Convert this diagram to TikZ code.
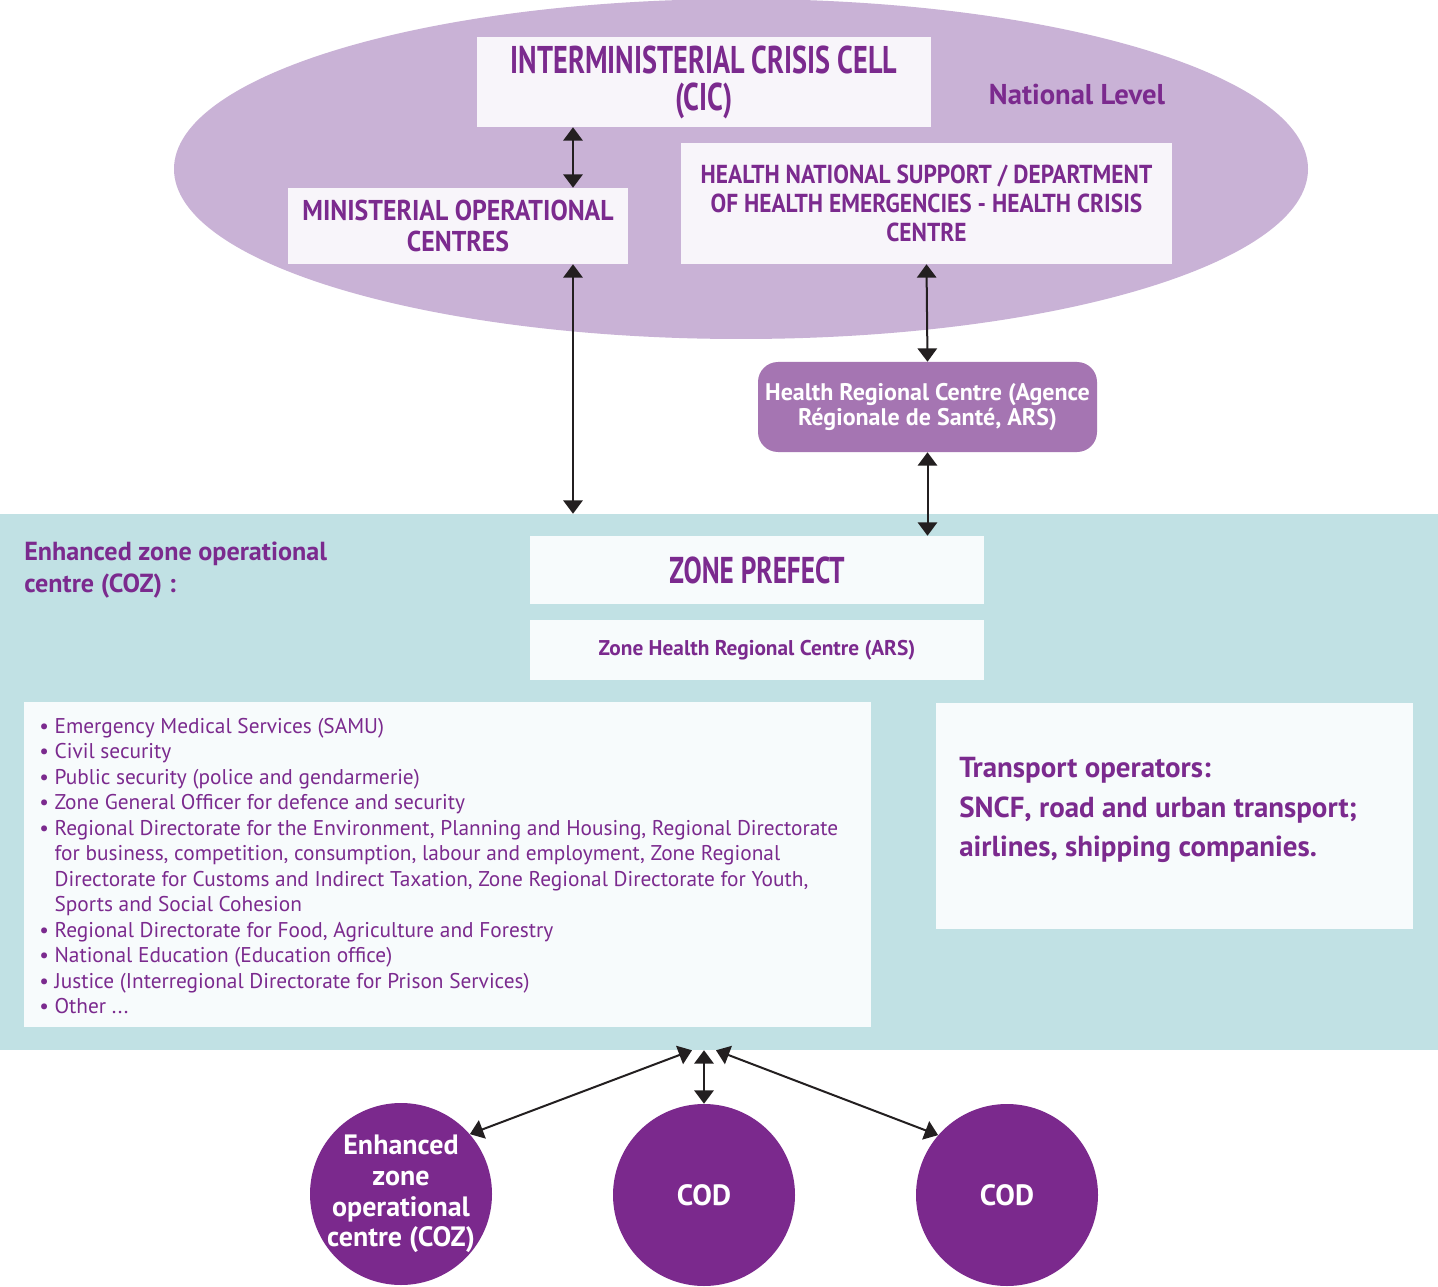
\documentclass[tikz,border=0pt]{standalone}
\usepackage{fontspec}
\setmainfont{PT Sans}
\newfontfamily\impactfont[FakeStretch=0.73]{PT Sans}
\newfontfamily\condfont[FakeStretch=0.9]{PT Sans}
\usetikzlibrary{arrows.meta,positioning,shapes.geometric,calc}

\definecolor{txtpurple}{HTML}{7B2A8E}
\definecolor{natlav}{HTML}{C9B2D6}
\definecolor{boxlav}{HTML}{F8F5FA}
\definecolor{arsfill}{HTML}{A575B2}
\definecolor{zoneteal}{HTML}{C1E1E4}
\definecolor{boxteal}{HTML}{F7FBFC}
\definecolor{codpurple}{HTML}{7B298D}
\definecolor{arrowgray}{HTML}{231F20}

\begin{document}
\begin{tikzpicture}[
    x=0.75pt, y=-0.75pt,
    >={Triangle[width=14.5pt,length=10pt]},
    % styles
    natbox/.style={rectangle, fill=boxlav, inner sep=0pt, align=center, text=txtpurple},
    zonebox/.style={rectangle, fill=boxteal, inner sep=0pt, align=center, text=txtpurple},
    capsfont/.style={font=\condfont\bfseries\fontsize{21.5}{23.5}\selectfont},
    bigfont/.style={font=\impactfont\bfseries\fontsize{29}{27.75}\selectfont},
    codcircle/.style={circle, fill=codpurple, minimum size=136.5pt, inner sep=0pt, align=center, text=white, font=\bfseries\fontsize{22}{23}\selectfont},
    codtext/.style={align=center, text=white, font=\bfseries\fontsize{21}{23}\selectfont},
    biarrow/.style={<->, line width=1.5pt, draw=arrowgray}
]
    \useasboundingbox (0,0) rectangle (1438,1287);
    \fill[white] (0,0) rectangle (1438,1287);

    % --- National level ---
    \node[ellipse, fill=natlav, minimum width=850.5pt, minimum height=255pt, inner sep=0pt] (nat) at (741,169) {};
    \node[text=txtpurple, font=\bfseries\fontsize{21.5}{24}\selectfont] (natlabel) at (1077,95) {National Level};

    \node[natbox, bigfont, minimum width=340.5pt, minimum height=67.5pt] (cic) at (704,82)
        {\raisebox{-2.5pt}{\parbox{330pt}{\centering INTERMINISTERIAL CRISIS CELL\\(CIC)}}};
    \node[natbox, capsfont, minimum width=255pt, minimum height=57pt] (mini) at (458,226)
        {MINISTERIAL OPERATIONAL\\CENTRES};
    \node[natbox, font=\condfont\bfseries\fontsize{19.5}{21.75}\selectfont,
        minimum width=368.25pt, minimum height=90.75pt] (hnat) at (926.5,203.5)
        {\raisebox{2pt}{\parbox{360pt}{\centering HEALTH NATIONAL SUPPORT / DEPARTMENT\\OF HEALTH EMERGENCIES - HEALTH CRISIS\\CENTRE}}};

    % Health Regional Centre
    \node[rectangle, rounded corners=15pt, fill=arsfill, text=white, align=center,
        minimum width=254.25pt, minimum height=67.5pt, inner sep=0pt,
        font=\bfseries\fontsize{18}{19}\selectfont] (ars) at (927.5,407)
        {\raisebox{-2pt}{\parbox{250pt}{\centering Health Regional Centre (Agence\\Régionale de Santé, ARS)}}};

    % --- Zone level ---
    \node[rectangle, fill=zoneteal, minimum width=1078.5pt, minimum height=402pt, inner sep=0pt] (zone) at (719,782) {};
    \node[anchor=west, align=left, inner sep=0pt, text=txtpurple,
        font=\bfseries\fontsize{19.6}{24}\selectfont] (cozlabel) at (24,570)
        {Enhanced zone operational\\centre (COZ) :};

    \node[zonebox, font=\impactfont\bfseries\fontsize{28}{30}\selectfont,
        minimum width=340.5pt, minimum height=51pt] (prefect) at (757,570) {ZONE PREFECT};
    \node[zonebox, font=\bfseries\fontsize{16}{20}\selectfont,
        minimum width=340.5pt, minimum height=45pt] (zars) at (757,650) {Zone Health Regional Centre (ARS)};

    \node[zonebox, minimum width=635.25pt, minimum height=243.75pt] (services) at (447.5,864.5) {};
    \node[anchor=north west, align=left, inner sep=0pt, text=txtpurple,
        font=\fontsize{16}{19.1}\selectfont] (servlist) at (39,718)
        {\textbullet\ Emergency Medical Services (SAMU)\\
         \textbullet\ Civil security\\
         \textbullet\ Public security (police and gendarmerie)\\
         \textbullet\ Zone General Officer for defence and security\\
         \textbullet\ Regional Directorate for the Environment, Planning and Housing, Regional Directorate\\
         \hphantom{\textbullet\ }for business, competition, consumption, labour and employment, Zone Regional\\
         \hphantom{\textbullet\ }Directorate for Customs and Indirect Taxation, Zone Regional Directorate for Youth,\\
         \hphantom{\textbullet\ }Sports and Social Cohesion\\
         \textbullet\ Regional Directorate for Food, Agriculture and Forestry\\
         \textbullet\ National Education (Education office)\\
         \textbullet\ Justice (Interregional Directorate for Prison Services)\\
         \textbullet\ Other ...};

    \node[zonebox, minimum width=357.75pt, minimum height=169.5pt] (transport) at (1174.5,816) {};
    \node[anchor=west, align=left, inner sep=0pt, text=txtpurple,
        font=\bfseries\fontsize{21.7}{29.6}\selectfont] (transtext) at (959,810)
        {Transport operators:\\SNCF, road and urban transport;\\airlines, shipping companies.};

    % --- Departmental level ---
    \node[codcircle, label={[codtext]center:{Enhanced\\zone\\operational\\centre (COZ)}}] (coz) at (401,1194) {};
    \node[codcircle] (codA) at (704,1195) {COD};
    \node[codcircle] (codB) at (1007,1195) {COD};

    % --- Arrows ---
    \coordinate (mcol) at (573,0);
    \draw[biarrow] (cic.south -| mcol) -- (mini.north -| mcol);
    \draw[biarrow] (mini.south -| mcol) -- (zone.north -| mcol);
    \draw[biarrow] (hnat.south) -- (ars.north);
    \draw[biarrow] (ars.south) -- (ars.south |- prefect.north);

    \draw[biarrow] (zone.south -| codA) -- (codA.north);
    \draw[biarrow] ($(zone.south -| codA)+(-12,0)$) -- (coz.41);
    \draw[biarrow] ($(zone.south -| codA)+(12,0)$) -- (codB.139);

\end{tikzpicture}
\end{document}
